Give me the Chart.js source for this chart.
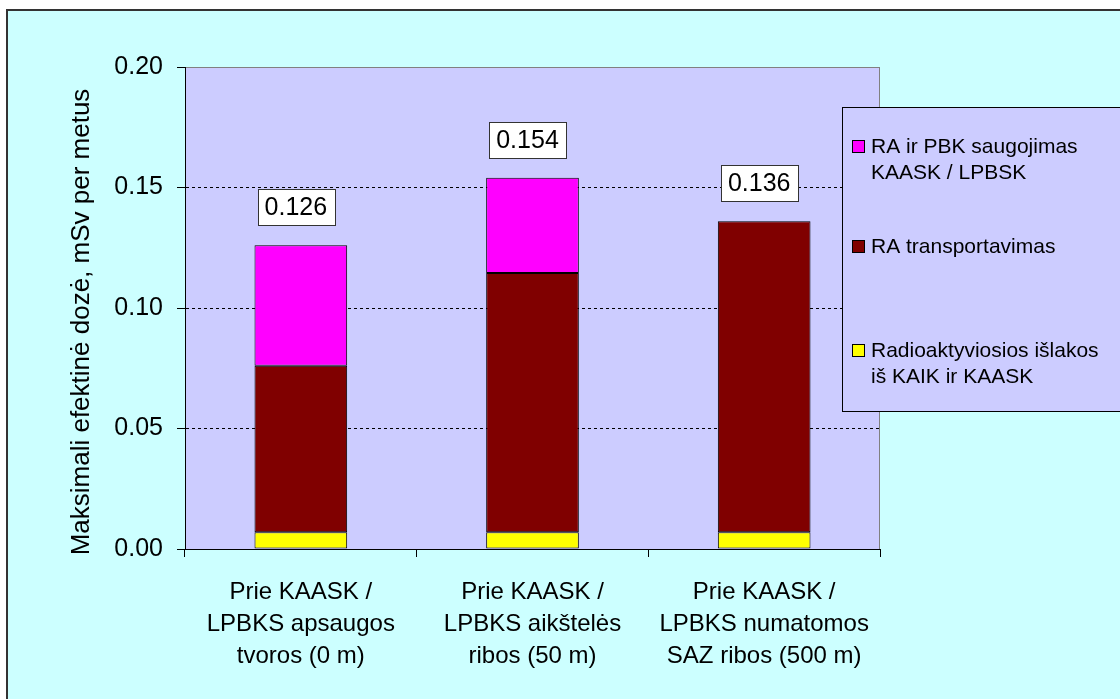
<!DOCTYPE html>
<html>
<head>
<meta charset="utf-8">
<script src="https://cdn.jsdelivr.net/npm/chart.js@4.4.1/dist/chart.umd.min.js"></script>
<style>
  html, body { margin: 0; padding: 0; background: #ffffff; }
  #wrap { width: 1120px; height: 699px; position: relative; }
</style>
</head>
<body>
<div id="wrap"><canvas id="c" width="1120" height="699"></canvas></div>
<script>
// ---- data ----
const categories = [
  ['Prie KAASK /', 'LPBKS apsaugos', 'tvoros (0 m)'],
  ['Prie KAASK /', 'LPBKS aikštelės', 'ribos (50 m)'],
  ['Prie KAASK /', 'LPBKS numatomos', 'SAZ ribos (500 m)']
];
const emissionsValues = [0.007, 0.007, 0.007];
const transportValues = [0.069, 0.1075, 0.129];
const storageValues = [0.050, 0.0395, null];
const totalValues = [0.126, 0.154, 0.136];
const totalLabels = ['0.126', '0.154', '0.136'];
const emissionsLabel = ['Radioaktyviosios išlakos', 'iš KAIK ir KAASK'];
const transportLabel = ['RA transportavimas'];
const storageLabel = ['RA ir PBK saugojimas', 'KAASK / LPBSK'];
const yAxisTitle = 'Maksimali efektinė dozė, mSv per metus';
const yTicks = [0, 0.05, 0.10, 0.15, 0.20];

const FONT = '"Liberation Sans", Arial, sans-serif';

const bgPlugin = {
  id: 'bg',
  beforeDraw(chart) {
    const ctx = chart.ctx;
    const a = chart.chartArea;
    ctx.save();
    ctx.fillStyle = '#ffffff';
    ctx.fillRect(0, 0, chart.width, chart.height);
    ctx.fillStyle = '#CCFFFF';
    ctx.fillRect(7, 10, chart.width, chart.height);
    ctx.strokeStyle = '#333333';
    ctx.lineWidth = 2;
    ctx.strokeRect(7, 10, chart.width + 10, chart.height + 10);
    ctx.fillStyle = '#CCCCFF';
    ctx.fillRect(a.left, a.top, a.right - a.left, a.bottom - a.top);
    ctx.strokeStyle = '#808080';
    ctx.lineWidth = 1;
    ctx.strokeRect(Math.round(a.left) + 0.5, Math.round(a.top) + 0.5, Math.round(a.right - a.left) - 1, Math.round(a.bottom - a.top));
    // y axis title
    ctx.translate(82, 322);
    ctx.rotate(-Math.PI / 2);
    ctx.fillStyle = '#000000';
    ctx.font = '26px ' + FONT;
    ctx.textAlign = 'center';
    ctx.textBaseline = 'middle';
    ctx.fillText(yAxisTitle, 0, 0);
    ctx.restore();
  }
};

const labelPlugin = {
  id: 'totals',
  afterDatasetsDraw(chart) {
    const ctx = chart.ctx;
    const xs = chart.scales.x, ys = chart.scales.y;
    ctx.save();
    ctx.font = '25px ' + FONT;
    ctx.textAlign = 'center';
    ctx.textBaseline = 'middle';
    totalValues.forEach((v, i) => {
      const cx = xs.getPixelForValue(i) - 5;
      const cy = ys.getPixelForValue(v) - 38;
      const w = ctx.measureText(totalLabels[i]).width + 14;
      const h = 36;
      const x0 = Math.round(cx - w / 2) + 0.5, y0 = Math.round(cy - h / 2) + 0.5;
      ctx.fillStyle = '#ffffff';
      ctx.fillRect(x0, y0, Math.round(w), h);
      ctx.strokeStyle = '#333333';
      ctx.lineWidth = 1;
      ctx.strokeRect(x0, y0, Math.round(w), h);
      ctx.fillStyle = '#000000';
      ctx.fillText(totalLabels[i], cx, cy + 1);
    });
    ctx.restore();
  }
};

const legendPlugin = {
  id: 'customLegend',
  afterDraw(chart) {
    const ctx = chart.ctx;
    ctx.save();
    ctx.fillStyle = '#CCCCFF';
    ctx.fillRect(842, 107, 300, 305);
    ctx.strokeStyle = '#000000';
    ctx.lineWidth = 1;
    ctx.strokeRect(842.5, 107.5, 300, 304);
    const items = [
      { ds: chart.data.datasets[2], lines: storageLabel, y: 147 },
      { ds: chart.data.datasets[1], lines: transportLabel, y: 247 },
      { ds: chart.data.datasets[0], lines: emissionsLabel, y: 351 }
    ];
    ctx.font = '21px ' + FONT;
    ctx.textAlign = 'left';
    ctx.textBaseline = 'middle';
    items.forEach(it => {
      ctx.fillStyle = it.ds.backgroundColor;
      ctx.fillRect(852.5, it.y - 6.5, 12, 12);
      ctx.strokeStyle = '#000000';
      ctx.strokeRect(852.5, it.y - 6.5, 12, 12);
      ctx.fillStyle = '#000000';
      it.lines.forEach((t, k) => ctx.fillText(t, 871, it.y + k * 26));
    });
    ctx.restore();
  }
};

new Chart(document.getElementById('c'), {
  type: 'bar',
  data: {
    labels: categories,
    datasets: [
      { label: emissionsLabel.join(' '), data: emissionsValues, backgroundColor: '#FFFF00', borderColor: '#000000', borderWidth: 1, borderSkipped: false },
      { label: transportLabel.join(' '), data: transportValues, backgroundColor: '#800000', borderColor: '#000000', borderWidth: 1, borderSkipped: false },
      { label: storageLabel.join(' '), data: storageValues, backgroundColor: '#FF00FF', borderColor: '#000000', borderWidth: 1, borderSkipped: false }
    ]
  },
  options: {
    responsive: false,
    animation: false,
    devicePixelRatio: 1,
    layout: { padding: { left: 0, top: 67, right: 240, bottom: 0 } },
    datasets: { bar: { barPercentage: 0.4, categoryPercentage: 1.0 } },
    plugins: { legend: { display: false }, tooltip: { enabled: false } },
    scales: {
      x: {
        stacked: true,
        offset: true,
        afterFit(s) { s.height = 150; },
        grid: { offset: true, drawOnChartArea: false, drawTicks: true, tickLength: 8, color: '#000000', tickColor: '#000000' },
        border: { display: true, color: '#000000', width: 1 },
        ticks: {
          color: '#000000',
          padding: 19,
          maxRotation: 0,
          autoSkip: false,
          font: { family: FONT, size: 24, lineHeight: '32px' }
        }
      },
      y: {
        stacked: true,
        min: 0,
        max: 0.2,
        afterFit(s) { s.width = 185; },
        afterBuildTicks(s) { s.ticks = yTicks.map(v => ({ value: v })); },
        grid: {
          drawTicks: true,
          tickLength: 8,
          color: (c) => (c.tick && (c.tick.value === 0.2 || c.tick.value === 0)) ? 'rgba(0,0,0,0)' : '#000000',
          tickColor: '#000000',
          tickBorderDash: []
        },
        border: { display: true, color: '#000000', width: 1, dash: [3, 3] },
        ticks: {
          color: '#000000',
          padding: 14,
          font: { family: FONT, size: 25 },
          callback: (v) => Number(v).toFixed(2)
        }
      }
    }
  },
  plugins: [bgPlugin, labelPlugin, legendPlugin]
});
</script>
</body>
</html>
